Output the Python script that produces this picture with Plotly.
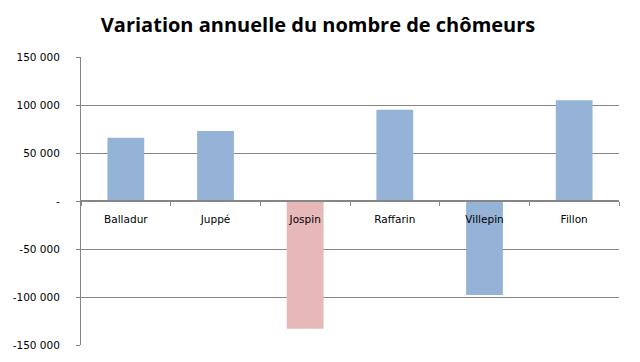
import plotly.graph_objects as go

categories = ["Balladur", "Juppé", "Jospin", "Raffarin", "Villepin", "Fillon"]
values = [66000, 73000, -133000, 95000, -98000, 105000]
bar_colors = ["#95B3D7", "#95B3D7", "#E6B9B8", "#95B3D7", "#95B3D7", "#95B3D7"]
y_tickvals = [-150000, -100000, -50000, 0, 50000, 100000, 150000]
y_ticktext = ["-150 000", "-100 000", "-50 000", "-", "50 000", "100 000", "150 000"]
title = "Variation annuelle du nombre de chômeurs"

fig = go.Figure()
fig.add_trace(go.Bar(x=categories, y=values, marker=dict(color=bar_colors, line=dict(width=0)),
                     width=0.41))

fig.update_layout(
    width=640, height=362,
    margin=dict(l=81, r=21, t=57, b=17, autoexpand=False),
    paper_bgcolor="white", plot_bgcolor="white",
    showlegend=False,
    title=dict(text="<b>" + title + "</b>", x=0.497, xanchor="center", y=0.93, yanchor="middle",
               font=dict(family="Open Sans", size=20, color="#000000")),
    font=dict(family="DejaVu Sans", size=10, color="#000000"),
    xaxis=dict(type="category", anchor="free", position=0.5, automargin=False,
               showline=True, linecolor="#868686", linewidth=1.5,
               ticks="outside", tickson="boundaries", ticklen=4, tickcolor="#868686",
               showgrid=False, tickfont=dict(family="DejaVu Sans", size=10.5),
               ticklabelstandoff=9,
               range=[-0.5, 5.5]),
    yaxis=dict(range=[-150000, 150000], tickvals=y_tickvals, ticktext=y_ticktext,
               automargin=False,
               showline=True, linecolor="#868686", linewidth=1,
               ticks="outside", ticklen=4, tickcolor="#868686",
               showgrid=True, gridcolor="#868686", gridwidth=1,
               zeroline=False, tickfont=dict(family="DejaVu Sans", size=10.5),
               ticklabelstandoff=14),
)

fig.write_html("out.html", config={"displayModeBar": False},
               post_script="document.body.style.margin='0';document.body.style.overflow='hidden';")
